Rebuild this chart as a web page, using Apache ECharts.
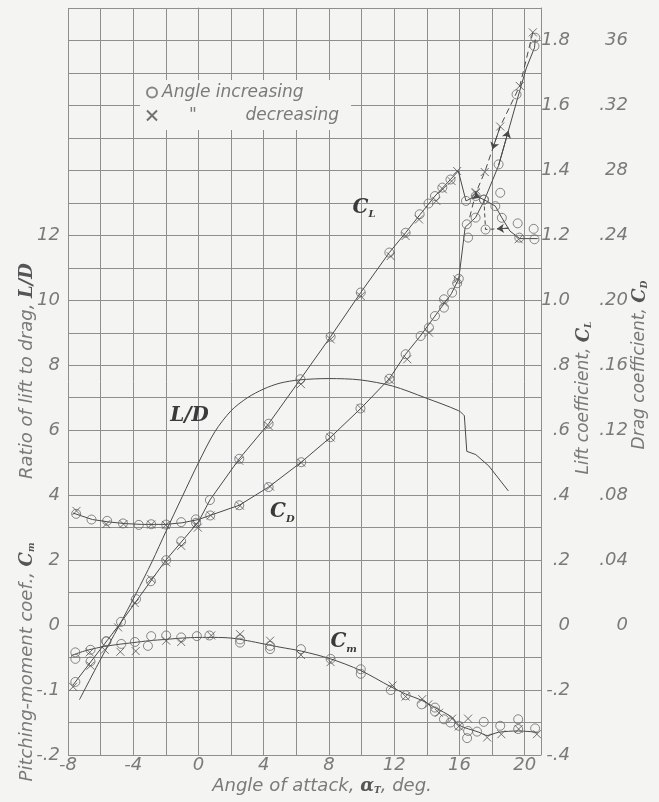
<!DOCTYPE html>
<html>
<head>
<meta charset="utf-8">
<script src="https://cdn.jsdelivr.net/npm/echarts@6/dist/echarts.min.js"></script>
<style>
html, body { margin: 0; padding: 0; background: #f4f4f2; }
#chart { width: 659px; height: 802px; }
</style>
</head>
<body>
<div id="chart"></div>
<script>
// all pairs are [angle of attack (deg), value]

// faired curves
const clCurve = [[-7.7, -0.185], [-4.8, 0.005], [-2, 0.2], [0, 0.318], [0.7, 0.385], [2.5, 0.512], [4.3, 0.62],
    [6.25, 0.757], [8.1, 0.888], [9.95, 1.024], [11.7, 1.147], [12.7, 1.208], [13.6, 1.265], [14.5, 1.321],
    [15.45, 1.372], [15.93, 1.398], [16.4, 1.306], [17.0, 1.321], [17.5, 1.31], [18.2, 1.29], [18.6, 1.254],
    [19.1, 1.213], [19.7, 1.19], [20.8, 1.19]]
const clDecr = [[19.0, 1.222], [17.6, 1.218], [17.5, 1.31]]

const cdCurve = [[-7.7, 0.069], [-6.5, 0.065], [-5.5, 0.0635], [-4.5, 0.0625], [-3.5, 0.062], [-2, 0.062],
    [-1, 0.063], [0, 0.065], [0.7, 0.0675], [2.5, 0.0738], [4.3, 0.085], [6.3, 0.1003], [8.1, 0.1157],
    [9.95, 0.1334], [11.7, 0.1517], [12.7, 0.1668], [13.6, 0.178], [14.5, 0.1903], [15.5, 0.204],
    [15.96, 0.2133], [16.35, 0.245], [16.99, 0.251], [17.5, 0.261], [18.4, 0.283], [19.6, 0.3257],
    [20.1, 0.343], [20.6, 0.3555], [20.65, 0.3606]]
const cdDecr = [[20.5, 0.365], [19.7, 0.332], [18.5, 0.307], [17.55, 0.279], [17.0, 0.266], [16.6, 0.25]]

// L/D: faired part up to the stall, then the broken part after it
const ldFaired = [[-7.3, -2.3], [-6, -1.05], [-4.9, -0.05], [-3.85, 0.95], [-2.85, 1.95], [-2, 2.88], [-1, 3.95],
    [0, 5.0], [1, 5.95], [2, 6.6], [3, 7.0], [4, 7.27], [5, 7.45], [6.2, 7.55], [8, 7.59], [9.9, 7.55],
    [11.9, 7.36], [13.9, 7.0], [15.95, 6.6], [16.3, 6.45]]
const ldStall = [[16.3, 6.45], [16.45, 5.35], [17.0, 5.25], [17.8, 4.9], [19.0, 4.13]]

const cmCurve = [[-7.8, -0.047], [-7, -0.04], [-6, -0.034], [-5, -0.03], [-4, -0.027], [-3, -0.024],
    [-2, -0.022], [-1, -0.02], [0, -0.019], [1, -0.019], [2, -0.02], [3, -0.024], [4, -0.029], [5, -0.034],
    [6.3, -0.04], [8.1, -0.052], [9.95, -0.07], [11.8, -0.095], [12.7, -0.106], [13.7, -0.116],
    [14.5, -0.127], [15.55, -0.142], [15.96, -0.154], [17.2, -0.165], [17.7, -0.17], [18.4, -0.165],
    [19.6, -0.163], [20.8, -0.165]]

// test points, angle increasing
const clUp = [[-7.55, -0.175], [-6.62, -0.112], [-5.65, -0.05], [-4.75, 0.01], [-3.83, 0.08], [-2.92, 0.135],
    [-1.98, 0.2], [-1.06, 0.258], [-0.15, 0.315], [0.7, 0.385], [2.5, 0.512], [4.3, 0.62], [6.25, 0.757],
    [8.1, 0.888], [9.95, 1.024], [11.7, 1.147], [12.7, 1.208], [13.56, 1.265], [14.1, 1.298], [14.5, 1.321],
    [14.95, 1.347], [15.45, 1.372], [16.4, 1.306], [17.0, 1.321], [17.5, 1.31], [18.2, 1.29], [18.6, 1.254],
    [19.67, 1.193], [20.6, 1.188], [17.6, 1.218], [18.5, 1.331], [19.57, 1.237], [20.55, 1.22]]
const cdUp = [[-7.5, 0.0685], [-6.56, 0.065], [-5.6, 0.0642], [-4.63, 0.0626], [-3.66, 0.0617], [-2.9, 0.0621],
    [-1.98, 0.0619], [-1.06, 0.0634], [-0.16, 0.0651], [0.72, 0.0675], [2.5, 0.0738], [4.3, 0.085],
    [6.3, 0.1003], [8.08, 0.1157], [9.93, 0.1334], [11.7, 0.1517], [12.7, 0.1668], [13.62, 0.178],
    [14.13, 0.1832], [14.5, 0.1903], [15.05, 0.1955], [15.05, 0.2006], [15.55, 0.2047], [15.86, 0.2105],
    [15.96, 0.2133], [16.53, 0.2386], [16.45, 0.2468], [16.99, 0.2509], [17.5, 0.262], [18.4, 0.2837],
    [19.5, 0.3268], [20.6, 0.3565], [20.65, 0.3617]]
const cmUp = [[-7.55, -0.042], [-7.55, -0.052], [-6.62, -0.038], [-5.65, -0.025], [-4.73, -0.029],
    [-3.9, -0.026], [-3.1, -0.032], [-2.9, -0.017], [-1.98, -0.016], [-1.06, -0.019], [-0.1, -0.017],
    [0.67, -0.016], [2.55, -0.027], [2.55, -0.022], [4.39, -0.037], [4.39, -0.032], [6.28, -0.037],
    [8.1, -0.052], [9.95, -0.068], [9.95, -0.075], [11.79, -0.1], [12.7, -0.108], [13.68, -0.122],
    [14.5, -0.127], [14.5, -0.133], [15.05, -0.145], [15.45, -0.15], [15.96, -0.155], [16.53, -0.163],
    [16.47, -0.174], [17.08, -0.164], [17.49, -0.149], [18.5, -0.155], [19.6, -0.145], [19.6, -0.16],
    [20.64, -0.159]]

// test points, angle decreasing
const clDown = [[-7.69, -0.19], [-6.62, -0.125], [-4.93, -0.007], [-3.91, 0.068], [-2.9, 0.142],
    [-1.98, 0.193], [-1.06, 0.244], [-0.04, 0.3], [2.5, 0.506], [4.3, 0.613], [6.28, 0.742], [8.1, 0.88],
    [9.95, 1.013], [11.78, 1.136], [12.7, 1.198], [13.52, 1.249], [14.58, 1.306], [14.98, 1.342],
    [15.52, 1.367], [15.86, 1.398], [16.99, 1.333], [19.63, 1.188]]
const cdDown = [[-7.48, 0.0703], [-5.65, 0.0622], [-4.6, 0.0622], [-2.9, 0.0619], [-2.0, 0.0617],
    [-0.14, 0.0622], [0.75, 0.0675], [2.55, 0.0735], [4.39, 0.0853], [6.3, 0.1], [8.1, 0.1155],
    [9.95, 0.1335], [11.72, 0.151], [12.8, 0.1637], [14.13, 0.1801], [15.05, 0.1986], [15.86, 0.2129],
    [17.0, 0.266], [17.55, 0.279], [18.5, 0.307], [19.7, 0.332], [20.5, 0.365]]
const cmDown = [[-6.67, -0.042], [-5.75, -0.038], [-4.79, -0.041], [-3.85, -0.04], [-1.98, -0.024],
    [-1.06, -0.026], [0.78, -0.016], [2.55, -0.014], [4.39, -0.024], [6.28, -0.046], [8.1, -0.057],
    [11.9, -0.093], [12.7, -0.11], [13.72, -0.114], [14.09, -0.122], [14.74, -0.135], [15.55, -0.144],
    [15.96, -0.156], [16.53, -0.144], [17.7, -0.173], [18.57, -0.168], [19.63, -0.16], [20.75, -0.168]]

// where the curve names sit
const nameSpots = { cl: [10.15, 1.286], cd: [5.14, 0.0695], ld: [-0.55, 6.43], cm: [8.9, -0.026] }

const ink = '#4a4a4a'
const gridInk = '#8e8e8e'
const labelInk = '#7a7a7a'
const sans = "'DejaVu Sans', sans-serif"
const serif = "'DejaVu Serif', 'Liberation Serif', serif"
const crossPath = 'path://M0,0L10,10M10,0L0,10'

const axisText = { fontFamily: sans, fontStyle: 'italic', fontSize: 18, color: labelInk }
const subRich = {
    c: { fontFamily: serif, fontStyle: 'italic', fontWeight: 'bold', fontSize: 20, color: '#3a3a3a' },
    s: { fontFamily: serif, fontStyle: 'italic', fontWeight: 'bold', fontSize: 10, color: '#3a3a3a', verticalAlign: 'bottom', padding: [0, 0, -2, 0] }
}
const titleRich = {
    b: { fontFamily: serif, fontStyle: 'italic', fontWeight: 'bold', fontSize: 18, fill: '#555' },
    c: { fontFamily: serif, fontStyle: 'italic', fontWeight: 'bold', fontSize: 18, fill: '#555' },
    s: { fontFamily: serif, fontStyle: 'italic', fontWeight: 'bold', fontSize: 9, fill: '#555', verticalAlign: 'bottom' }
}

function curveName(coord, text) {
    return {
        symbol: 'circle', symbolSize: 0, silent: true,
        data: [{ coord }],
        label: { show: true, position: 'inside', formatter: text, rich: subRich }
    }
}

// small arrowhead half way along segment i of a curve
function arrows(curveData, idxs) {
    return {
        silent: true, symbol: ['none', 'arrow'], symbolSize: 7,
        lineStyle: { color: ink, width: 1, type: 'solid' }, label: { show: false },
        data: idxs.map(i => {
            const a = curveData[i], b = curveData[i + 1]
            const m = [(a[0] + b[0]) / 2, (a[1] + b[1]) / 2]
            return [{ coord: a }, { coord: m }]
        })
    }
}

function curve(name, data, yAxisIndex, extra) {
    return Object.assign({
        name, type: 'line', data, yAxisIndex, showSymbol: false, silent: true,
        smooth: false,
        lineStyle: { color: ink, width: 1 }, z: 3
    }, extra || {})
}

function points(name, data, yAxisIndex, up) {
    return {
        name, type: 'scatter', data, yAxisIndex, silent: true, z: 4,
        symbol: up ? 'circle' : crossPath,
        symbolSize: up ? 9 : 8,
        itemStyle: { color: 'transparent', borderColor: up ? '#6a6a6a' : '#505050', borderWidth: 1 }
    }
}

function title(x, y, rotation, text, size) {
    return {
        type: 'text', x, y, rotation, silent: true,
        style: {
            text, align: 'center', verticalAlign: 'middle',
            fontFamily: sans, fontStyle: 'italic', fontSize: size, fill: labelInk, rich: titleRich
        }
    }
}

const chart = echarts.init(document.getElementById('chart'))
chart.setOption({
    animation: false,
    backgroundColor: '#f4f4f2',
    grid: { left: 68, right: 118, top: 8, bottom: 47 },
    legend: {
        data: ['Angle increasing', 'decreasing'],
        orient: 'vertical', left: 140, top: 80,
        itemWidth: 10, itemHeight: 10, itemGap: 6,
        padding: [4, 12, 6, 6],
        backgroundColor: '#f4f4f2',
        formatter: n => n === 'decreasing' ? '     "         decreasing' : n,
        textStyle: { fontFamily: sans, fontStyle: 'italic', fontSize: 17, color: labelInk }
    },
    xAxis: {
        type: 'value', min: -8, max: 21, interval: 2,
        axisLine: { show: true, lineStyle: { color: gridInk } },
        axisTick: { show: false },
        splitLine: { show: true, lineStyle: { color: gridInk, width: 1 } },
        axisLabel: Object.assign({ margin: 1, formatter: v => (v % 4 === 0 && v <= 20) ? String(v) : '' }, axisText)
    },
    yAxis: [
        { // L/D
            type: 'value', position: 'left', min: -4, max: 19, interval: 1,
            axisLine: { show: true, lineStyle: { color: gridInk } },
            axisTick: { show: false },
            splitLine: { show: true, lineStyle: { color: gridInk, width: 1 } },
            axisLabel: Object.assign({ margin: 8, formatter: v => (v >= 2 && v <= 12 && v % 2 === 0) ? String(v) : '' }, axisText)
        },
        { // Cm
            type: 'value', position: 'left', min: -0.2, max: 0.95, interval: 0.05,
            axisLine: { show: false }, axisTick: { show: false }, splitLine: { show: false },
            axisLabel: Object.assign({
                margin: 8,
                formatter: v => {
                    const r = Math.round(v * 100)
                    return r === 0 ? '0' : r === -10 ? '-.1' : r === -20 ? '-.2' : ''
                }
            }, axisText)
        },
        { // CL
            type: 'value', position: 'right', min: -0.4, max: 1.9, interval: 0.1,
            axisLine: { show: true, lineStyle: { color: gridInk } },
            axisTick: { show: false }, splitLine: { show: false },
            axisLabel: Object.assign({
                margin: 29, align: 'right',
                formatter: v => {
                    const r = Math.round(v * 10)
                    if (r % 2 !== 0 || r > 18) return ''
                    if (r === 0) return '0'
                    let s = (r / 10).toFixed(1)
                    if (Math.abs(r) < 10) s = s.replace('0.', '.')
                    return s
                }
            }, axisText)
        },
        { // CD
            type: 'value', position: 'right', min: -0.08, max: 0.38, interval: 0.02,
            axisLine: { show: false }, axisTick: { show: false }, splitLine: { show: false },
            axisLabel: Object.assign({
                margin: 87, align: 'right',
                formatter: v => {
                    const r = Math.round(v * 100)
                    if (r < 0 || r > 36 || r % 4 !== 0) return ''
                    if (r === 0) return '0'
                    if (r === 36 || r === 28) return String(r)
                    return '.' + String(r).padStart(2, '0')
                }
            }, axisText)
        }
    ],
    graphic: [
        title(27, 371, Math.PI / 2, 'Ratio of lift to drag, {b|L/D}', 18),
        title(27, 662, Math.PI / 2, 'Pitching-moment coef., {c|C}{s|m}', 18),
        title(584, 398, Math.PI / 2, 'Lift coefficient, {c|C}{s|L}', 17),
        title(640, 365, Math.PI / 2, 'Drag coefficient, {c|C}{s|D}', 17),
        title(322, 786, 0, 'Angle of attack, {c|α}{s|T}, deg.', 18)
    ],
    series: [
        curve('CL', clCurve, 2, {
            markPoint: curveName(nameSpots.cl, '{c|C}{s|L}'),
            markLine: arrows(clCurve, [17])
        }),
        curve('CL decreasing', clDecr, 2, {
            lineStyle: { color: ink, width: 1, type: [4, 3] },
            markLine: arrows(clDecr, [0])
        }),
        curve('CD', cdCurve, 3, {
            markPoint: curveName(nameSpots.cd, '{c|C}{s|D}'),
            markLine: arrows(cdCurve, [23])
        }),
        curve('CD decreasing', cdDecr, 3, {
            lineStyle: { color: ink, width: 1, type: [6, 4] },
            markLine: arrows(cdDecr, [2])
        }),
        curve('L/D', ldFaired, 0, { smooth: 0.3, markPoint: curveName(nameSpots.ld, '{c|L/D}') }),
        curve('L/D stall', ldStall, 0),
        curve('Cm', cmCurve, 1, { smooth: 0.3, markPoint: curveName(nameSpots.cm, '{c|C}{s|m}') }),
        points('Angle increasing', clUp, 2, true),
        points('Angle increasing', cdUp, 3, true),
        points('Angle increasing', cmUp, 1, true),
        points('decreasing', clDown, 2, false),
        points('decreasing', cdDown, 3, false),
        points('decreasing', cmDown, 1, false)
    ]
})
</script>
</body>
</html>
